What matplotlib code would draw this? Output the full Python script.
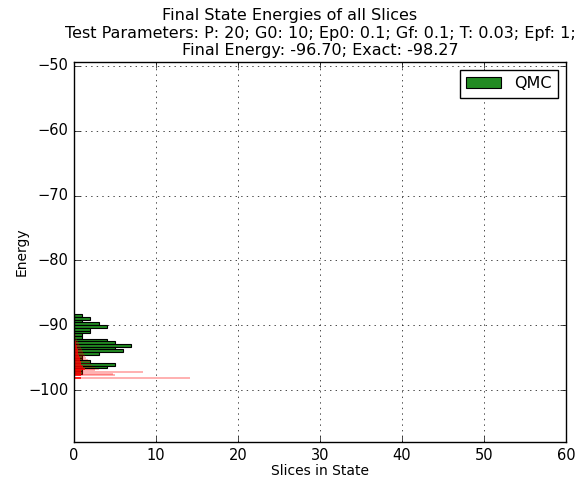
import numpy as np
import matplotlib
matplotlib.use("Agg")
import matplotlib.pyplot as plt

plt.style.use('classic')
plt.rcParams['font.family'] = ['DejaVu Sans']
plt.rcParams['figure.facecolor'] = 'white'
plt.rcParams['savefig.facecolor'] = 'white'

# QMC histogram (green): counts per energy bin, top bin first
green_top = -88.3
green_binw = 0.4175
green_counts = [1, 2, 1, 3, 4, 2, 2, 1, 1, 4, 5, 7, 5, 6, 3, 1, 1, 2, 5, 4, 1, 1]

# per-slice histograms (red, transparent): bar energy and width
red_energy = [-91.5, -91.9, -92.3, -92.6, -92.9, -93.2, -93.5, -93.8, -94.1,
              -94.4, -94.7, -95.0, -95.3, -95.6, -95.9, -96.2, -96.5, -96.8,
              -96.9, -97.2, -97.5, -97.65, -98.1]
red_width = [0.2, 0.3, 0.4, 0.5, 0.6, 0.7, 0.9, 1.0, 1.1,
             1.2, 1.4, 1.5, 1.7, 1.9, 2.0, 2.2, 2.5, 3.0,
             2.5, 8.4, 4.8, 5.0, 14.1]

title = ("Final State Energies of all Slices" + " " * 12 + "\n"
         "Test Parameters: P: 20; G0: 10; Ep0: 0.1; Gf: 0.1; T: 0.03; Epf: 1;\n"
         "Final Energy: -96.70; Exact: -98.27")

fig = plt.figure(figsize=(5.85, 4.78), dpi=100)
ax = fig.add_axes([0.1265, 0.0753, 0.8410, 0.7950])

edges = green_top - green_binw * np.arange(len(green_counts) + 1)
ax.barh(edges[1:], green_counts, height=green_binw, align='edge',
        color='forestgreen', edgecolor='black', linewidth=0.8, label='QMC')

ax.barh(red_energy, red_width, height=0.25, color='red', alpha=0.3,
        linewidth=0)
# kräftigeres Rot nahe Null (überlappende Slices)
ax.barh(red_energy, [w * 0.45 for w in red_width[:-5]] + [0.8] * 5,
        height=0.3, color='red', alpha=0.8, linewidth=0)

ax.set_xlim(0, 60)
ax.set_ylim(-108, -49.4)
ax.grid(True)
ax.tick_params(labelsize=10.5, pad=4)
ax.set_xlabel('Slices in State', fontsize=10, labelpad=1)
ax.set_ylabel('Energy', fontsize=10, labelpad=0)
ax.set_title(title, fontsize=11.5, pad=5)
ax.legend(loc='upper right', fontsize=11.5, handlelength=2.2,
          borderaxespad=0.5)

fig.savefig('out.png', dpi=100)
